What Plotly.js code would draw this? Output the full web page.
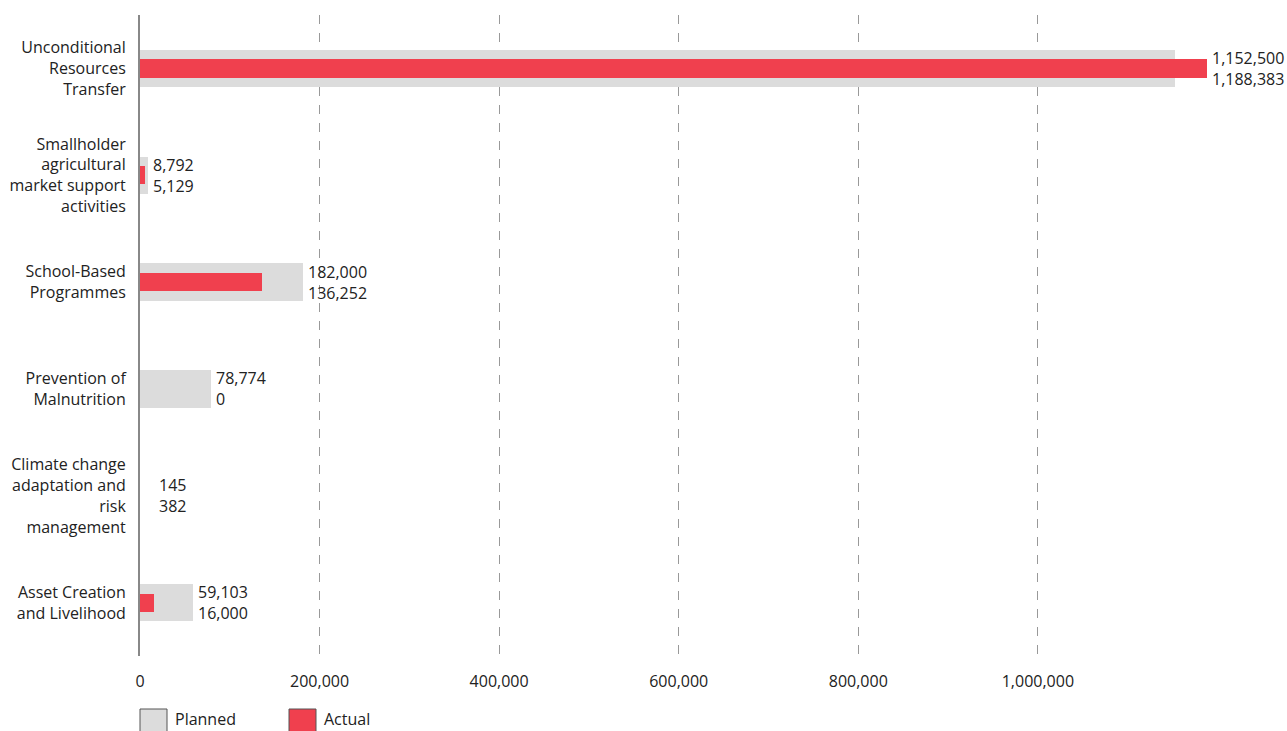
<!DOCTYPE html>
<html>
<head>
<meta charset="utf-8">
<script src="https://cdn.plot.ly/plotly-3.0.1.min.js"></script>
<style>html,body{margin:0;padding:0;background:#fff;}#chart{width:1287px;height:731px;}</style>
</head>
<body>
<div id="chart"></div>
<script>
const categories = [
  "Unconditional<br>Resources<br>Transfer",
  "Smallholder<br>agricultural<br>market support<br>activities",
  "School-Based<br>Programmes",
  "Prevention of<br>Malnutrition",
  "Climate change<br>adaptation and<br>risk<br>management",
  "Asset Creation<br>and Livelihood"
];
const planned = [1152500, 8792, 182000, 78774, 145, 59103];
const actual = [1188383, 5129, 136252, 0, 382, 16000];
const tickVals = [0, 200000, 400000, 600000, 800000, 1000000];

const FONT = "Open Sans, Noto Sans, sans-serif";
const FS = 16;
const fmt = v => v.toLocaleString("en-US");

const traces = [
  {type: "bar", orientation: "h", name: "Planned", y: categories, x: planned,
   width: 0.35, marker: {color: "#dcdcdc"}, hoverinfo: "x"},
  {type: "bar", orientation: "h", name: "Actual", y: categories, x: actual,
   width: 0.17, marker: {color: "#f0404e"}, hoverinfo: "x"}
];

const annotations = categories.map((c, i) => {
  let m = Math.max(planned[i], actual[i]);
  if (m < 5000) m = 16000;
  return {
    x: m, y: c, xref: "x", yref: "y",
    text: fmt(planned[i]) + "<br>" + fmt(actual[i]),
    showarrow: false, xanchor: "left", yanchor: "middle", align: "left", xshift: 3,
    font: {family: FONT, size: FS, color: "#222"}
  };
});
// legend labels
annotations.push(
  {xref: "paper", yref: "paper", x: 33/1067, y: -63/641, text: "Planned", showarrow: false,
   xanchor: "left", yanchor: "middle", font: {family: FONT, size: FS, color: "#222"}},
  {xref: "paper", yref: "paper", x: 182/1067, y: -63/641, text: "Actual", showarrow: false,
   xanchor: "left", yanchor: "middle", font: {family: FONT, size: FS, color: "#222"}}
);
const shapes = [
  {type: "rect", xref: "paper", yref: "paper", x0: 0, x1: 27/1067, y0: -80/641, y1: -53/641,
   fillcolor: "#dcdcdc", line: {color: "#555", width: 1}},
  {type: "rect", xref: "paper", yref: "paper", x0: 149/1067, x1: 176/1067, y0: -80/641, y1: -53/641,
   fillcolor: "#f0404e", line: {color: "#555", width: 1}}
];

const layout = {
  width: 1287, height: 731,
  margin: {l: 140, r: 80, t: 15, b: 75, pad: 0},
  barmode: "overlay",
  bargap: 0,
  showlegend: false,
  paper_bgcolor: "#fff", plot_bgcolor: "#fff",
  font: {family: FONT, size: FS, color: "#222"},
  xaxis: {
    range: [0, 1188383], tickvals: tickVals, tickformat: ",",
    showgrid: true, gridcolor: "#999", gridwidth: 1, griddash: "dash",
    zeroline: false, showline: false, ticks: "", ticklabelstandoff: 14,
    tickfont: {family: FONT, size: FS, color: "#222"}, fixedrange: true
  },
  yaxis: {
    type: "category", autorange: "reversed",
    showline: true, linecolor: "#888", linewidth: 2, showgrid: false, zeroline: false,
    ticks: "", ticklabelstandoff: 9,
    tickfont: {family: FONT, size: FS, color: "#222"}, fixedrange: true
  },
  annotations: annotations,
  shapes: shapes
};

Plotly.newPlot("chart", traces, layout, {displayModeBar: false, staticPlot: true});
</script>
</body>
</html>
